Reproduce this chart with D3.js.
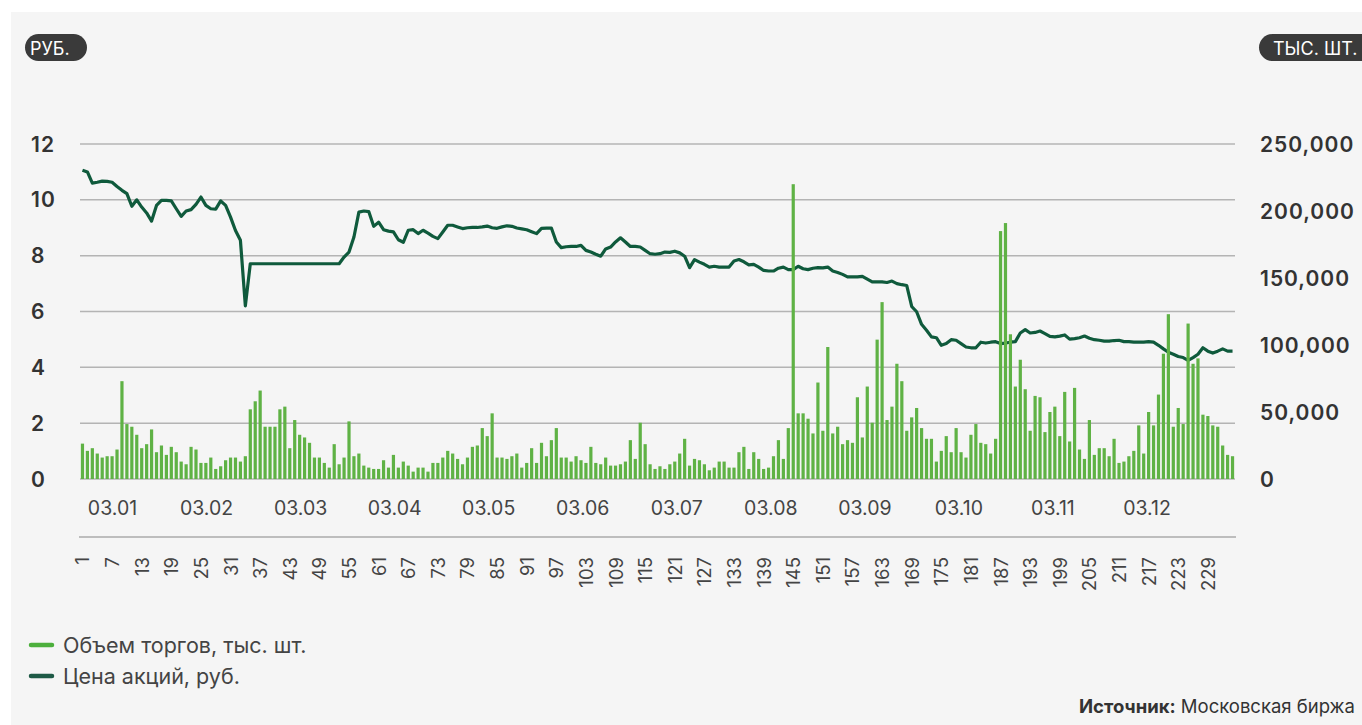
<!DOCTYPE html>
<html>
<head>
<meta charset="utf-8">
<script src="https://cdn.jsdelivr.net/npm/d3@7"></script>
<style>
  body { margin: 0; background: #ffffff; }
  svg { display: block; font-family: Inter, "Noto Sans", sans-serif; }
</style>
</head>
<body>
<svg id="chart" width="1362" height="725"></svg>
<script>
// trading days, numbered as on the axis
var days = d3.range(1, 235);
var dayTicks = d3.range(1, 235, 6);
var months = ["03.01", "03.02", "03.03", "03.04", "03.05", "03.06",
              "03.07", "03.08", "03.09", "03.10", "03.11", "03.12"];
var priceTicks = [0, 2, 4, 6, 8, 10, 12];
var volumeTicks = [0, 50000, 100000, 150000, 200000, 250000];

// share price, rub.
var price = [
  11.06, 11.0, 10.6, 10.63, 10.67, 10.66, 10.63, 10.48, 10.34, 10.22,
  9.77, 10.0, 9.74, 9.53, 9.24, 9.8, 9.98, 9.98, 9.96, 9.68,
  9.41, 9.6, 9.65, 9.84, 10.1, 9.8, 9.68, 9.67, 9.96, 9.8,
  9.38, 8.9, 8.55, 6.2, 7.71, 7.71, 7.71, 7.71, 7.71, 7.71,
  7.71, 7.71, 7.71, 7.71, 7.71, 7.71, 7.71, 7.71, 7.71, 7.71,
  7.71, 7.71, 7.71, 7.95, 8.13, 8.67, 9.56, 9.6, 9.58, 9.05,
  9.2, 8.93, 8.88, 8.85, 8.57, 8.48, 8.91, 8.93, 8.79, 8.91,
  8.81, 8.69, 8.61, 8.85, 9.09, 9.09, 9.03, 8.97, 9.0, 9.01,
  9.01, 9.03, 9.06, 9.0, 8.98, 9.03, 9.07, 9.05, 8.99, 8.96,
  8.93, 8.86, 8.79, 8.98, 8.99, 8.99, 8.49, 8.29, 8.32, 8.33,
  8.33, 8.37, 8.19, 8.13, 8.05, 7.98, 8.24, 8.31, 8.49, 8.64,
  8.49, 8.33, 8.33, 8.31, 8.19, 8.07, 8.05, 8.07, 8.13, 8.12,
  8.16, 8.1, 7.98, 7.57, 7.86, 7.77, 7.69, 7.59, 7.62, 7.59,
  7.59, 7.59, 7.81, 7.86, 7.78, 7.67, 7.69, 7.59, 7.47, 7.45,
  7.45, 7.55, 7.59, 7.5, 7.5, 7.62, 7.53, 7.5, 7.55, 7.57,
  7.56, 7.59, 7.45, 7.4, 7.33, 7.24, 7.24, 7.24, 7.26, 7.16,
  7.06, 7.06, 7.06, 7.04, 7.09, 7.0, 6.96, 6.93, 6.18, 5.99,
  5.54, 5.33, 5.09, 5.06, 4.79, 4.85, 4.99, 4.97, 4.85, 4.73,
  4.7, 4.7, 4.9, 4.87, 4.9, 4.92, 4.85, 4.87, 4.9, 4.92,
  5.23, 5.35, 5.23, 5.25, 5.3, 5.21, 5.11, 5.09, 5.12, 5.16,
  5.01, 5.03, 5.06, 5.12, 5.04, 4.99, 4.97, 4.94, 4.94, 4.96,
  4.97, 4.92, 4.92, 4.9, 4.9, 4.9, 4.92, 4.9, 4.79, 4.66,
  4.54, 4.47, 4.39, 4.35, 4.25, 4.35, 4.47, 4.7, 4.58, 4.51,
  4.58, 4.66, 4.58, 4.58
];

// trading volume, thousand shares
var volume = [
  26400, 21000, 23000, 19000, 16000, 17000, 17000, 22000, 73000, 41000,
  39000, 33000, 23000, 26000, 37000, 20000, 25000, 18000, 24000, 20000,
  13000, 11000, 24000, 22000, 12000, 12000, 16000, 7500, 9500, 14000,
  16000, 16000, 13000, 17000, 52000, 58000, 66000, 39000, 39000, 39000,
  52000, 54000, 23000, 44000, 33000, 31000, 27000, 16000, 16000, 12000,
  8500, 26000, 11000, 16000, 43000, 17000, 19000, 10000, 8500, 7500,
  7500, 14000, 8500, 18000, 8500, 13000, 10000, 5500, 8500, 8500,
  5500, 12000, 12000, 16000, 21000, 19000, 15000, 11000, 16000, 24000,
  25000, 38000, 32000, 49000, 16000, 16000, 15000, 17000, 19000, 8500,
  12000, 23000, 12000, 27000, 17000, 29000, 38000, 16000, 16000, 13000,
  17000, 14000, 12000, 24000, 12000, 11000, 16000, 10000, 10000, 11000,
  13000, 29000, 15000, 42000, 26000, 11000, 7500, 9500, 7500, 11000,
  13000, 19000, 30000, 10000, 15000, 14000, 11000, 6500, 8500, 13000,
  13000, 8500, 8500, 20000, 24000, 7500, 20000, 15000, 7500, 8500,
  17000, 29000, 15000, 38000, 220000, 49000, 49000, 45000, 34000, 72000,
  36000, 98500, 34000, 39000, 26000, 29000, 27000, 61000, 31000, 69000,
  42000, 104000, 132000, 44000, 54000, 86000, 73000, 36000, 46000, 53000,
  38000, 30000, 30000, 13000, 21000, 32000, 20000, 38000, 20000, 16000,
  33000, 41000, 27000, 26000, 19000, 30000, 185000, 191000, 108000, 69000,
  89000, 67000, 36000, 62000, 61000, 35000, 50000, 54000, 32000, 65000,
  28000, 68000, 22000, 15000, 44000, 18000, 23000, 23000, 17000, 30000,
  12000, 13000, 17000, 21000, 40000, 19000, 50000, 40000, 63000, 93500,
  123000, 39000, 53000, 41000, 116000, 86000, 90000, 48000, 47000, 40000,
  39000, 25000, 18000, 17000
];

var barColor = '#5fb245';
var lineColor = '#0f5a3c';
var textColor = '#444444';

var svg = d3.select('#chart');

// light grey card
svg.append('rect')
  .attr('x', 11).attr('y', 12)
  .attr('width', 1351).attr('height', 713)
  .attr('fill', '#f5f5f5');

var x = d3.scaleBand()
  .domain(days)
  .range([80, 1235])
  .paddingInner(0.35)
  .paddingOuter(0.175);

var yPrice = d3.scaleLinear().domain([0, 12]).range([479, 144]);
var yVol = d3.scaleLinear().domain([0, 250000]).range([479, 144]);
var xMonth = d3.scalePoint().domain(months).range([112.5, 1147]);

var bw = x.bandwidth();

// grid
svg.append('g').selectAll('line')
  .data(priceTicks)
  .enter()
  .append('line')
  .attr('x1', 80).attr('x2', 1235)
  .attr('y1', function(d) { return yPrice(d); })
  .attr('y2', function(d) { return yPrice(d); })
  .attr('stroke', '#b4b4b4')
  .attr('stroke-width', 1.5);

// left axis labels
svg.append('g').selectAll('text')
  .data(priceTicks)
  .enter()
  .append('text')
  .attr('x', 31)
  .attr('y', function(d) { return yPrice(d); })
  .attr('dominant-baseline', 'central')
  .attr('fill', '#333333')
  .style('font-size', '21px')
  .style('font-weight', 600)
  .style('letter-spacing', '1px')
  .text(function(d) { return d; });

// right axis labels
var fmt = d3.format(',');
svg.append('g').selectAll('text')
  .data(volumeTicks)
  .enter()
  .append('text')
  .attr('x', 1260)
  .attr('y', function(d) { return yVol(d); })
  .attr('dominant-baseline', 'central')
  .attr('fill', '#333333')
  .style('font-size', '21px')
  .style('font-weight', 600)
  .style('letter-spacing', '1px')
  .text(function(d) { return fmt(d); });

// price line
var line = d3.line()
  .x(function(d, i) { return x(days[i]) + bw / 2; })
  .y(function(d) { return yPrice(d); });

svg.append('path')
  .datum(price)
  .attr('d', line)
  .attr('fill', 'none')
  .attr('stroke', lineColor)
  .attr('stroke-width', 3.2)
  .attr('stroke-linejoin', 'round');

// volume bars
svg.append('g').selectAll('rect')
  .data(volume)
  .enter()
  .append('rect')
  .attr('x', function(d, i) { return x(days[i]); })
  .attr('width', bw)
  .attr('y', function(d) { return yVol(d); })
  .attr('height', function(d) { return yVol(0) - yVol(d); })
  .attr('fill', barColor);

// month row
svg.append('g').selectAll('text')
  .data(months)
  .enter()
  .append('text')
  .attr('x', function(d) { return xMonth(d); })
  .attr('y', 508)
  .attr('text-anchor', 'middle')
  .attr('dominant-baseline', 'central')
  .attr('fill', textColor)
  .style('font-size', '19.5px')
  .text(function(d) { return d; });

svg.append('line')
  .attr('x1', 79).attr('x2', 1236)
  .attr('y1', 537).attr('y2', 537)
  .attr('stroke', '#aaaaaa')
  .attr('stroke-width', 1.5);

// day numbers, rotated
svg.append('g').selectAll('text')
  .data(dayTicks)
  .enter()
  .append('text')
  .attr('transform', function(d) {
    return 'translate(' + (x(d) + bw / 2) + ',557) rotate(-90)';
  })
  .attr('text-anchor', 'end')
  .attr('dominant-baseline', 'central')
  .attr('fill', textColor)
  .style('font-size', '18.5px')
  .text(function(d) { return d; });

// unit pills
function pill(px, w, label, tx) {
  svg.append('rect')
    .attr('x', px).attr('y', 34)
    .attr('width', w).attr('height', 27)
    .attr('rx', 13.5)
    .attr('fill', '#3a3a3a');
  svg.append('text')
    .attr('x', tx).attr('y', 48)
    .attr('dominant-baseline', 'central')
    .attr('fill', '#ffffff')
    .style('font-size', '18px')
    .text(label);
}
pill(25, 62, 'РУБ.', 30);
pill(1259, 120, 'ТЫС. ШТ.', 1273);

// legend
var legend = [
  { label: 'Объем торгов, тыс. шт.', color: '#4caf3c', y: 645 },
  { label: 'Цена акций, руб.', color: '#1e5a46', y: 676 }
];
legend.forEach(function(l) {
  svg.append('line')
    .attr('x1', 31).attr('x2', 52)
    .attr('y1', l.y).attr('y2', l.y)
    .attr('stroke', l.color)
    .attr('stroke-width', 4.5)
    .attr('stroke-linecap', 'round');
  svg.append('text')
    .attr('x', 63).attr('y', l.y)
    .attr('dominant-baseline', 'central')
    .attr('fill', textColor)
    .style('font-size', '21.5px')
    .text(l.label);
});

// source
var src = svg.append('text')
  .attr('x', 1355).attr('y', 706)
  .attr('text-anchor', 'end')
  .attr('dominant-baseline', 'central')
  .attr('fill', '#333333')
  .style('font-size', '18.5px');
src.append('tspan').style('font-weight', 700).text('Источник:');
src.append('tspan').text(' Московская биржа');
</script>
</body>
</html>
